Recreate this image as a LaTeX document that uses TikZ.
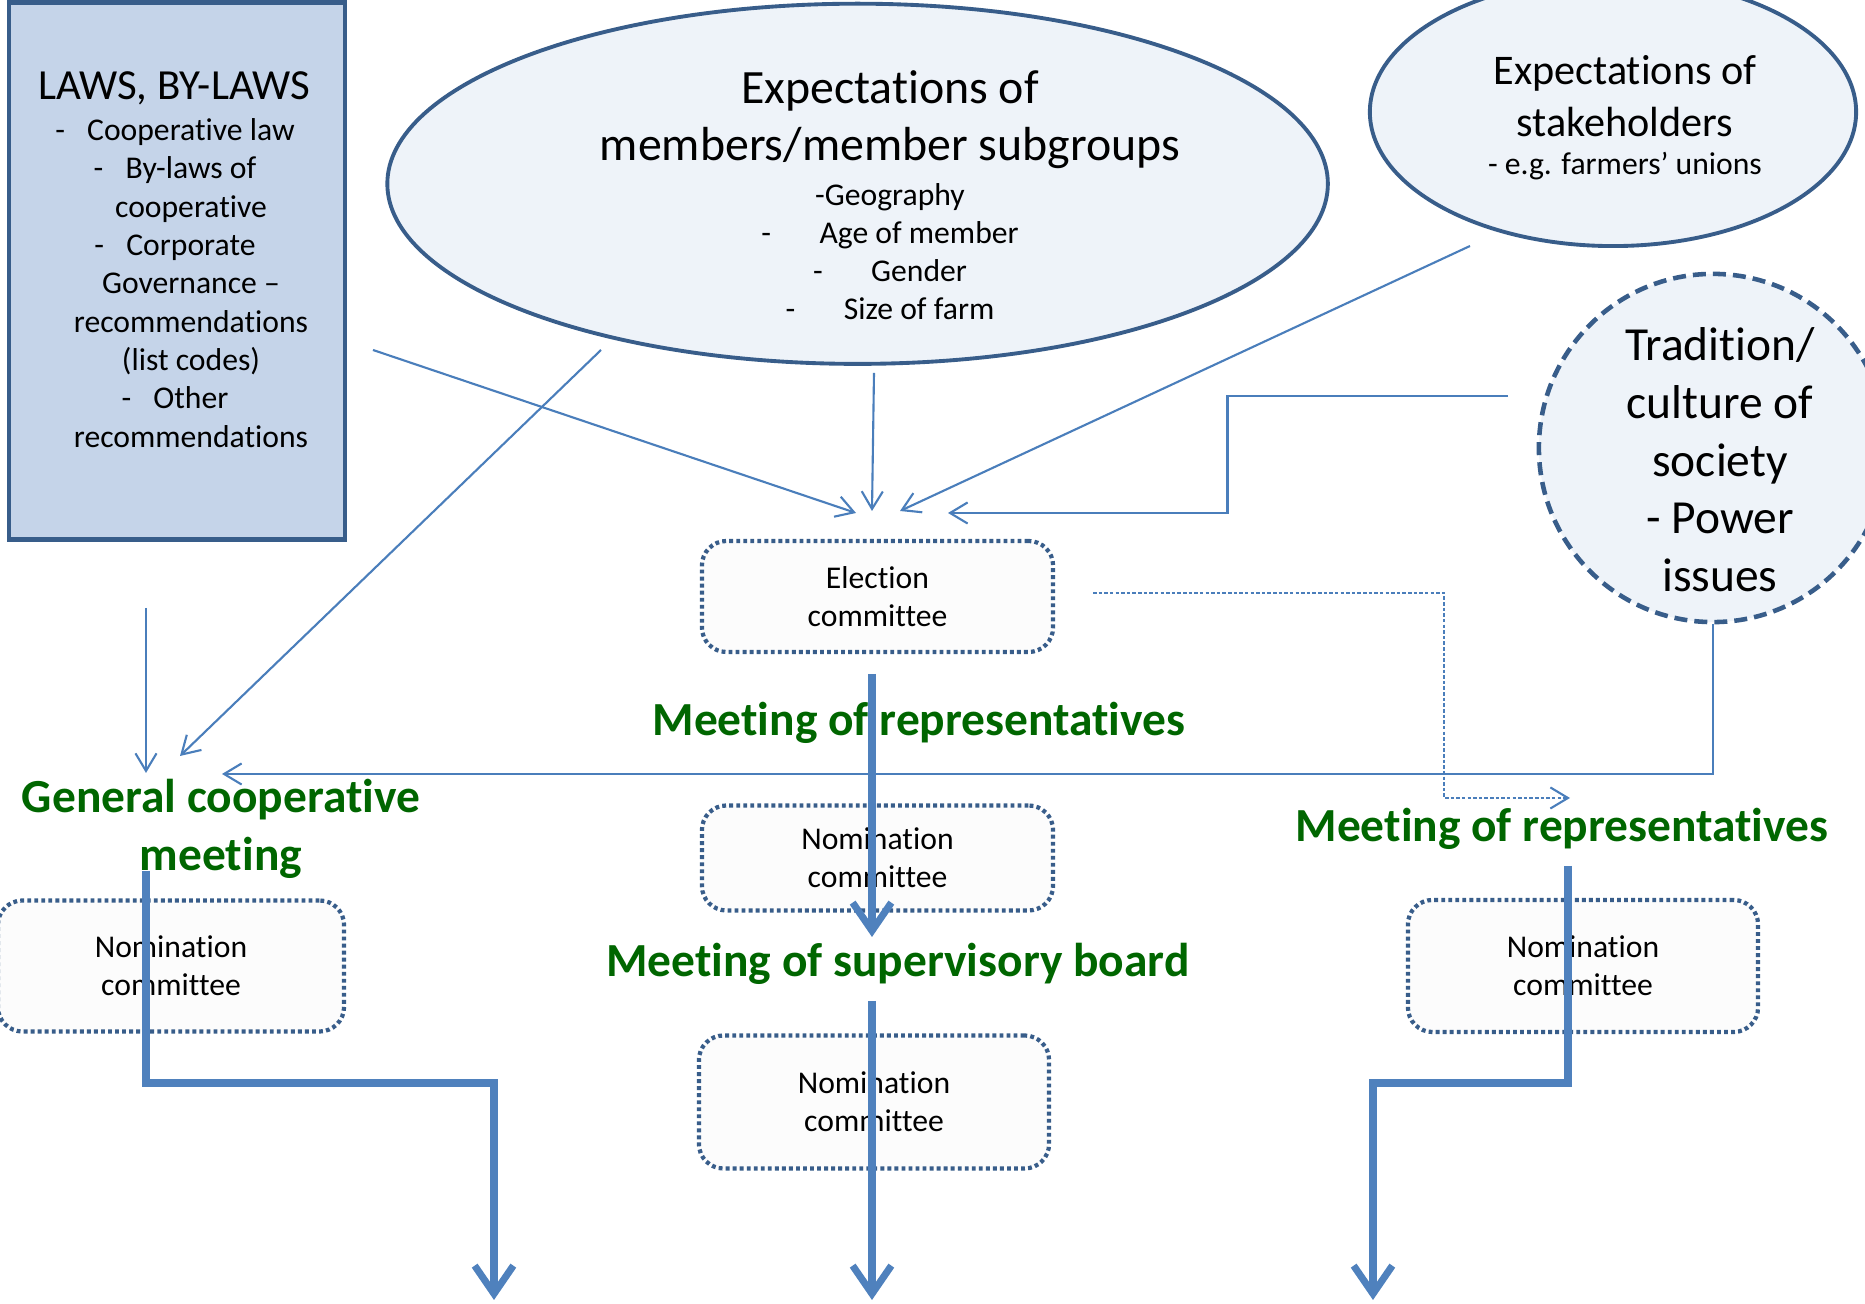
\documentclass[tikz,border=0pt]{standalone}
\usepackage{fontspec}
\setmainfont[Ligatures={TeX,NoCommon}]{Carlito}
\usetikzlibrary{shapes.geometric,arrows.meta}
\definecolor{frameblue}{RGB}{56,93,138}
\definecolor{lawsfill}{RGB}{197,212,233}
\definecolor{bubblefill}{RGB}{238,243,249}
\definecolor{linkblue}{RGB}{74,126,187}
\definecolor{flowblue}{RGB}{79,129,189}
\definecolor{meetgreen}{RGB}{0,102,0}
\begin{document}
\begin{tikzpicture}
  [x=0.01cm,y=-0.01cm,
   small/.style={font=\fontsize{9}{10.9}\selectfont,align=center,inner sep=0},
   big/.style={font=\fontsize{13.5}{16.3}\selectfont,align=center,inner sep=0},
   bubble/.style={ellipse,draw=frameblue,line width=1.1pt,fill=bubblefill,inner sep=0},
   committee/.style={draw=frameblue,line width=1.2pt,dash pattern=on 1.1pt off 0.9pt,
     rounded corners=7pt,fill=black!1,inner sep=0,align=center,font=\fontsize{9}{10.9}\selectfont},
   meeting/.style={text=meetgreen,font=\bfseries\fontsize{13.5}{16.5}\selectfont,align=center,inner sep=0},
   link/.style={draw=linkblue,line width=0.6pt,-{Straight Barb[length=5pt,width=6pt]}},
   flow/.style={draw=flowblue,line width=2pt,-{Straight Barb[length=8pt,width=11pt]}}]
\useasboundingbox (0,0) rectangle (1865,1304);

\node (laws)[draw=frameblue,line width=1.3pt,fill=lawsfill,minimum width=3.355cm,minimum height=5.366cm] at (177,271) {};
\node (lawstitle)[font=\fontsize{12.2}{14}\selectfont,inner sep=0] at (174,88) {LAWS, BY-LAWS};
\node (lawslist)[small] at (175,283) {-\hspace{6.3pt}Cooperative law\\
  -\hspace{6.3pt}By-laws of\\ \hspace*{9.1pt}cooperative\\
  -\hspace{6.3pt}Corporate\\ \hspace*{9.1pt}Governance –\\ \hspace*{9.1pt}recommendations\\ \hspace*{9.1pt}(list codes)\\
  -\hspace{6.3pt}Other\\ \hspace*{9.1pt}recommendations};

\node (members)[bubble,minimum width=9.4cm,minimum height=3.6cm] at (857.6,183.8) {};
\node (memberstitle)[big,font=\fontsize{13.6}{16.2}\selectfont] at (890,120) {Expectations of\\members/member subgroups};
\node (memberslist)[small,font=\fontsize{9}{10.8}\selectfont] at (890,252) {-Geography\\
  -\hspace{13.8pt}Age of member\\ -\hspace{13.8pt}Gender\\ -\hspace{13.8pt}Size of farm};

\node (stake)[bubble,minimum width=4.86cm,minimum height=2.68cm] at (1613,112) {};
\node (staketitle)[font=\fontsize{12}{14.9}\selectfont,align=center,inner sep=0] at (1625,96) {Expectations of\\stakeholders};
\node (stakenote)[small] at (1625,166) {- e.g. farmers’ unions};

\node (tradition)[circle,draw=frameblue,line width=1.3pt,dash pattern=on 3.7pt off 2pt,fill=bubblefill,minimum size=3.48cm,inner sep=0] at (1713,448) {};
\node (traditiontext)[big,font=\fontsize{13.5}{16.4}\selectfont] at (1720,460) {Tradition/\\culture of\\society\\- Power\\issues};

\node (election)[committee,minimum width=3.51cm,minimum height=1.11cm] at (877.5,596.5) {Election\\committee};
\node (nommid)[committee,minimum width=3.51cm,minimum height=1.05cm] at (877.5,858) {Nomination\\committee};
\node (nomlow)[committee,minimum width=3.5cm,minimum height=1.33cm] at (874,1102) {Nomination\\committee};
\node (nomleft)[committee,minimum width=3.46cm,minimum height=1.31cm] at (171,966) {Nomination\\committee};
\node (nomright)[committee,minimum width=3.5cm,minimum height=1.32cm] at (1583,966) {Nomination\\committee};

\node (repmid)[meeting] at (919,723) {Meeting of representatives};
\node (general)[meeting] at (221,829) {General cooperative\\meeting};
\node (repright)[meeting] at (1562,829) {Meeting of representatives};
\node (superv)[meeting] at (898,964) {Meeting of supervisory board};

% free ends of the links
\coordinate (lawsout) at (373,350);
\coordinate (lawsdown) at (146,608);
\coordinate (membersleft) at (601,350);
\coordinate (membersout) at (874,373);
\coordinate (stakeout) at (1470,246);
\coordinate (tradout) at (1508,396);
\coordinate (electout) at (1093,593);
\coordinate (in1) at (856,513);
\coordinate (in2) at (872,511);
\coordinate (in3) at (900,511);
\coordinate (in4) at (948,513);
\coordinate (genin1) at (146,773);
\coordinate (genin2) at (180,756);
\coordinate (genin3) at (222,774);
\coordinate (repin) at (1570,798);

\draw[link] (lawsout) -- (in1);
\draw[link] (membersout) -- (in2);
\draw[link] (stakeout) -- (in3);
\draw[link] (tradout) -| (1227.5,450) |- (in4);
\draw[link] (lawsdown) -- (genin1);
\draw[link] (membersleft) -- (genin2);
\draw[link] (tradition.south) |- (genin3);
\draw[link,dash pattern=on 1pt off 0.6pt] (electout) -| (1444,700) |- (repin);

% main flow
\coordinate (flowa) at (872,674);
\coordinate (flowaend) at (872,937);
\coordinate (flowb) at (872,1001);
\coordinate (flowbend) at (872,1300);
\coordinate (flowc) at (146,871);
\coordinate (flowcend) at (494,1300);
\coordinate (flowd) at (1568,866);
\coordinate (flowdend) at (1373,1300);
\draw[flow] (flowa) -- (flowaend);
\draw[flow] (flowb) -- (flowbend);
\draw[flow] (flowc) |- (494,1083) -- (flowcend);
\draw[flow] (flowd) |- (1373,1083) -- (flowdend);
\end{tikzpicture}
\end{document}
